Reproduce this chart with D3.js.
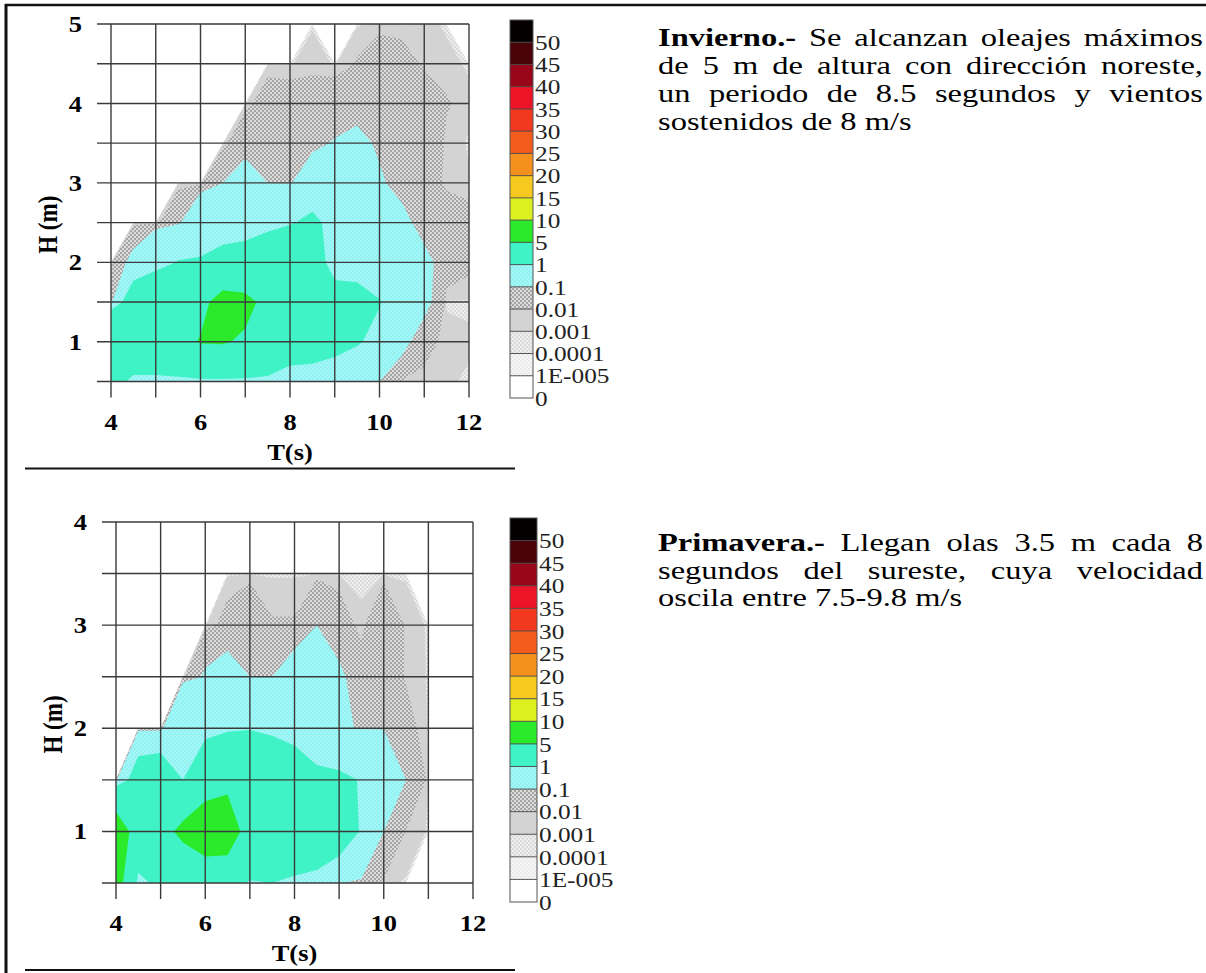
<!DOCTYPE html>
<html>
<head>
<meta charset="utf-8">
<script src="https://cdn.jsdelivr.net/npm/d3@7"></script>
<style>
  html, body { margin: 0; padding: 0; background: #fff; }
  svg { display: block; }
</style>
</head>
<body>
<svg id="page" width="1206" height="973"></svg>
<script>
// ---- data -------------------------------------------------------------
// wave period nodes (s)
const periods = [4, 4.5, 5, 5.5, 6, 6.5, 7, 7.5, 8, 8.5, 9, 9.5, 10, 10.5, 11, 11.5, 12];

// winter: significant height nodes (m), top row first
const winterHeights = [5, 4.5, 4, 3.5, 3, 2.5, 2, 1.5, 1, 0.5];
// winter: frequency of occurrence (%) at each (H, T) node
const winterFreq = [
  [0, 0, 0, 0, 0, 0, 0, 0, 0, 0, 0, 0, 0.003, 0.0003, 0.003, 0, 0],
  [0, 0, 0, 0, 0, 0, 0, 0, 0, 0.006, 0, 0.012, 0.03, 0.025, 0.006, 0.003, 0],
  [0, 0, 0, 0, 0, 0, 0, 0.03, 0.025, 0.02, 0.03, 0.05, 0.07, 0.05, 0.04, 0.012, 0.003],
  [0, 0, 0, 0, 0, 0, 0.05, 0.06, 0.07, 0.07, 0.11, 0.14, 0.08, 0.06, 0.04, 0.006, 0],
  [0, 0, 0, 0, 0, 0.1, 0.18, 0.1, 0.09, 0.2, 0.3, 0.35, 0.12, 0.05, 0.03, 0.005, 0.002],
  [0, 0, 0, 0.06, 0.4, 0.5, 0.5, 0.7, 0.9, 1.3, 0.6, 0.5, 0.35, 0.15, 0.04, 0.03, 0.02],
  [0, 0.15, 0.6, 1.05, 1.1, 1.4, 1.6, 2.0, 2.5, 1.6, 0.6, 0.5, 0.4, 0.3, 0.15, 0.03, 0.015],
  [0, 2.0, 2.5, 3.0, 4.0, 6.5, 6.0, 4.0, 3.0, 2.5, 1.5, 1.5, 1.05, 0.4, 0.15, 0, 0],
  [5.2, 3.5, 3.0, 4.0, 5.2, 5.3, 4.5, 3.5, 2.2, 2.0, 1.5, 1.1, 0.7, 0.15, 0.02, 0.004, 0.002],
  [2.0, 0.5, 0.6, 0.6, 0.7, 0.7, 0.7, 0.6, 0.2, 0.2, 0.2, 0.15, 0.1, 0.005, 0.004, 0.002, 0]
];

// spring: significant height nodes (m), top row first
const springHeights = [4, 3.5, 3, 2.5, 2, 1.5, 1, 0.5];
const springFreq = [
  [0, 0, 0, 0, 0, 0, 0, 0, 0, 0, 0, 0, 0, 0, 0, 0, 0],
  [0, 0, 0, 0, 0, 0, 0, 0, 0, 0, 0, 0, 0, 0, 0, 0, 0],
  [0, 0, 0, 0, 0, 0.02, 0.06, 0.012, 0.012, 0.1, 0.03, 0.002, 0.06, 0.006, 0, 0, 0],
  [0, 0, 0, 0, 0.12, 0.18, 0.1, 0.1, 0.2, 0.6, 0.13, 0.03, 0.03, 0.008, 0, 0, 0],
  [0, 0, 0, 0.9, 0.6, 0.8, 0.95, 0.8, 0.6, 0.5, 0.12, 0.09, 0.09, 0.02, 0, 0, 0],
  [0, 1.85, 2.1, 1.0, 2.5, 3.8, 2.5, 2.2, 1.8, 1.2, 1.2, 0.95, 0.5, 0.1, 0, 0, 0],
  [8, 3, 3.5, 6, 8.5, 8, 2.8, 3, 2.8, 2.5, 1.8, 0.9, 0.1, 0.008, 0, 0, 0],
  [7, 0.5, 1.5, 1.3, 1.3, 1.5, 0.9, 1.0, 0.7, 0.5, 0.12, 0.03, 0.003, 0, 0, 0, 0]
];

// contour levels (%) and their legend captions
const levelBreaks = [1e-5, 1e-4, 1e-3, 0.01, 0.1, 1, 5, 10, 15, 20, 25, 30, 35, 40, 45, 50];
const levelLabels = ["0", "1E-005", "0.0001", "0.001", "0.01", "0.1", "1", "5", "10", "15", "20", "25", "30", "35", "40", "45", "50"];

// axis ticks
const periodTicks = [4, 6, 8, 10, 12];
const winterHeightTicks = [1, 2, 3, 4, 5];
const springHeightTicks = [1, 2, 3, 4];

// side text
const winterText = [
  [["Invierno.-", true], ["Se"], ["alcanzan"], ["oleajes"], ["máximos"]],
  [["de"], ["5"], ["m"], ["de"], ["altura"], ["con"], ["dirección"], ["noreste,"]],
  [["un"], ["periodo"], ["de"], ["8.5"], ["segundos"], ["y"], ["vientos"]],
  [["sostenidos"], ["de"], ["8"], ["m/s"]]
];
const springText = [
  [["Primavera.-", true], ["Llegan"], ["olas"], ["3.5"], ["m"], ["cada"], ["8"]],
  [["segundos"], ["del"], ["sureste,"], ["cuya"], ["velocidad"]],
  [["oscila"], ["entre"], ["7.5-9.8"], ["m/s"]]
];

// ---- drawing ----------------------------------------------------------
const svg = d3.select("#page");
const SERIF = "'Liberation Serif', 'Times New Roman', serif";
const defs = svg.append("defs");

function dotPattern(id, bg, dot, size, r, pts) {
  const p = defs.append("pattern").attr("id", id)
    .attr("patternUnits", "userSpaceOnUse").attr("width", size).attr("height", size);
  p.append("rect").attr("width", size).attr("height", size).attr("fill", bg);
  pts.forEach(([cx, cy]) => p.append("circle").attr("cx", cx).attr("cy", cy).attr("r", r).attr("fill", dot));
}
dotPattern("band1", "#f7f7f7", "#d4d4d4", 4, 0.7, [[1, 1], [3, 3]]);
dotPattern("band2", "#eeeeee", "#c2c2c2", 4, 0.8, [[1, 1], [3, 3]]);
dotPattern("band4", "#dcdcdc", "#8a8a8a", 4, 0.9, [[1, 1], [3, 3]]);
dotPattern("band5", "#8ff3f3", "#c6fbfb", 4, 0.8, [[1, 1], [3, 3]]);

// fill of each band, from "below 1E-005" up to "above 50"
const bandFill = [
  "#ffffff", "url(#band1)", "url(#band2)", "#d3d3d3", "url(#band4)", "url(#band5)",
  "#40f3c6", "#2aea2a", "#dcf020", "#f6c820", "#f4901e", "#f45c1e",
  "#f2381e", "#ec1426", "#98061a", "#480208", "#050000"
];

let clipCount = 0;
function drawPanel(cfg) {
  const { freq, heights, hTop, hTicks, px0, px1, pyTop, pyBottom, lg } = cfg;
  const x = d3.scaleLinear().domain([4, 12]).range([px0, px1]);
  const y = d3.scaleLinear().domain([0.5, hTop]).range([pyBottom, pyTop]);
  const nx = periods.length, ny = heights.length;
  // grid coordinates from d3.contours: node i sits at i + 0.5
  const gx = d3.scaleLinear().domain([0.5, nx - 0.5]).range([x(periods[0]), x(periods[nx - 1])]);
  const gy = d3.scaleLinear().domain([0.5, ny - 0.5]).range([y(heights[0]), y(heights[ny - 1])]);
  const path = d3.geoPath(d3.geoTransform({
    point(px, py) { this.stream.point(gx(px), gy(py)); }
  }));

  const clipId = "plotclip" + (clipCount++);
  defs.append("clipPath").attr("id", clipId).append("rect")
    .attr("x", px0).attr("y", pyTop).attr("width", px1 - px0).attr("height", pyBottom - pyTop);

  const bands = d3.contours().size([nx, ny]).thresholds(levelBreaks)(freq.flat());
  svg.append("g").attr("clip-path", `url(#${clipId})`)
    .selectAll("path").data(bands).join("path")
    .attr("d", path)
    .attr("fill", d => bandFill[levelBreaks.indexOf(d.value) + 1]);

  // grid, drawn as long ticks
  const grid = svg.append("g").attr("stroke", "#3a3a3a").attr("stroke-width", 1.4);
  d3.range(0.5, hTop + 0.01, 0.5).forEach(h => {
    grid.append("line").attr("x1", px0 - 14).attr("x2", px1).attr("y1", y(h)).attr("y2", y(h));
  });
  d3.range(4, 12.01, 1).forEach(t => {
    grid.append("line").attr("x1", x(t)).attr("x2", x(t)).attr("y1", pyTop).attr("y2", pyBottom + 16);
  });

  // tick labels
  const stretch = 1.15;
  hTicks.forEach(h => {
    svg.append("text").attr("transform", `translate(${px0 - 29},${y(h)}) scale(${stretch},1)`)
      .attr("text-anchor", "end").attr("dy", "0.35em")
      .attr("font-family", SERIF).attr("font-weight", "bold").attr("font-size", 23).text(h);
  });
  periodTicks.forEach(t => {
    svg.append("text").attr("transform", `translate(${x(t)},${pyBottom + 40}) scale(${stretch},1)`)
      .attr("text-anchor", "middle").attr("dy", "0.35em")
      .attr("font-family", SERIF).attr("font-weight", "bold").attr("font-size", 23).text(t);
  });
  svg.append("text").attr("transform", `translate(${(px0 + px1) / 2},${pyBottom + 70}) scale(${stretch},1)`)
    .attr("text-anchor", "middle").attr("dy", "0.35em")
    .attr("font-family", SERIF).attr("font-weight", "bold").attr("font-size", 23).text("T(s)");
  svg.append("text").attr("transform", `translate(${px0 - 63},${(pyTop + pyBottom) / 2 + 22}) scale(${stretch},1) rotate(-90)`)
    .attr("text-anchor", "middle").attr("dy", "0.35em")
    .attr("font-family", SERIF).attr("font-weight", "bold").attr("font-size", 23).text("H (m)");

  // colour bar
  const nb = bandFill.length;
  const ly = d3.scaleLinear().domain([0, nb]).range([lg.bottom, lg.top]);
  const bar = svg.append("g");
  bar.selectAll("rect").data(bandFill).join("rect")
    .attr("x", lg.x0).attr("width", lg.x1 - lg.x0)
    .attr("y", (d, i) => ly(i + 1)).attr("height", (d, i) => ly(i) - ly(i + 1))
    .attr("fill", d => d);
  bar.selectAll("line").data(d3.range(1, nb)).join("line")
    .attr("x1", lg.x0).attr("x2", lg.x1).attr("y1", d => ly(d)).attr("y2", d => ly(d))
    .attr("stroke", "#444").attr("stroke-width", 0.9);
  bar.append("rect").attr("x", lg.x0).attr("y", lg.top).attr("width", lg.x1 - lg.x0)
    .attr("height", lg.bottom - lg.top).attr("fill", "none").attr("stroke", "#555").attr("stroke-width", 1);
  levelLabels.forEach((lab, i) => {
    svg.append("text").attr("transform", `translate(${lg.x1 + 2},${ly(i)}) scale(1.15,1)`)
      .attr("dy", "0.35em").attr("font-family", SERIF).attr("font-size", 22)
      .attr("fill", "#222").text(lab);
  });
}

drawPanel({
  freq: winterFreq, heights: winterHeights, hTop: 5, hTicks: winterHeightTicks,
  px0: 111, px1: 469, pyTop: 24, pyBottom: 381.5,
  lg: { x0: 510, x1: 533, top: 20, bottom: 398 }
});
drawPanel({
  freq: springFreq, heights: springHeights, hTop: 4, hTicks: springHeightTicks,
  px0: 116, px1: 473, pyTop: 522, pyBottom: 883,
  lg: { x0: 510, x1: 537, top: 518, bottom: 902 }
});

// justified side paragraphs
function paragraph(lines, x0, x1, base, pitch) {
  const stretch = 1.3, size = 25;
  const avail = (x1 - x0) / stretch;
  lines.forEach((words, li) => {
    const g = svg.append("g").attr("transform", `translate(${x0},${base + li * pitch}) scale(${stretch},1)`);
    const nodes = words.map(([w, bold]) => g.append("text")
      .attr("font-family", SERIF).attr("font-size", size).attr("fill", "#000")
      .attr("font-weight", bold ? "bold" : "normal").text(w));
    const widths = nodes.map(n => n.node().getComputedTextLength());
    const last = li === lines.length - 1;
    const gap = last ? size * 0.25 : (avail - d3.sum(widths)) / (words.length - 1);
    let cx = 0;
    nodes.forEach((n, k) => { n.attr("x", cx); cx += widths[k] + gap; });
  });
}
paragraph(winterText, 658, 1203, 45.5, 28.3);
paragraph(springText, 658, 1203, 551, 27.5);

// page rules
const rules = svg.append("g").attr("stroke", "#111");
rules.append("line").attr("x1", 5).attr("x2", 1206).attr("y1", 5).attr("y2", 5).attr("stroke-width", 2.5);
rules.append("line").attr("x1", 6).attr("x2", 6).attr("y1", 4).attr("y2", 973).attr("stroke-width", 3);
rules.append("line").attr("x1", 25).attr("x2", 515).attr("y1", 468.5).attr("y2", 468.5).attr("stroke-width", 2);
rules.append("line").attr("x1", 25).attr("x2", 515).attr("y1", 970).attr("y2", 970).attr("stroke-width", 2);
</script>
</body>
</html>
